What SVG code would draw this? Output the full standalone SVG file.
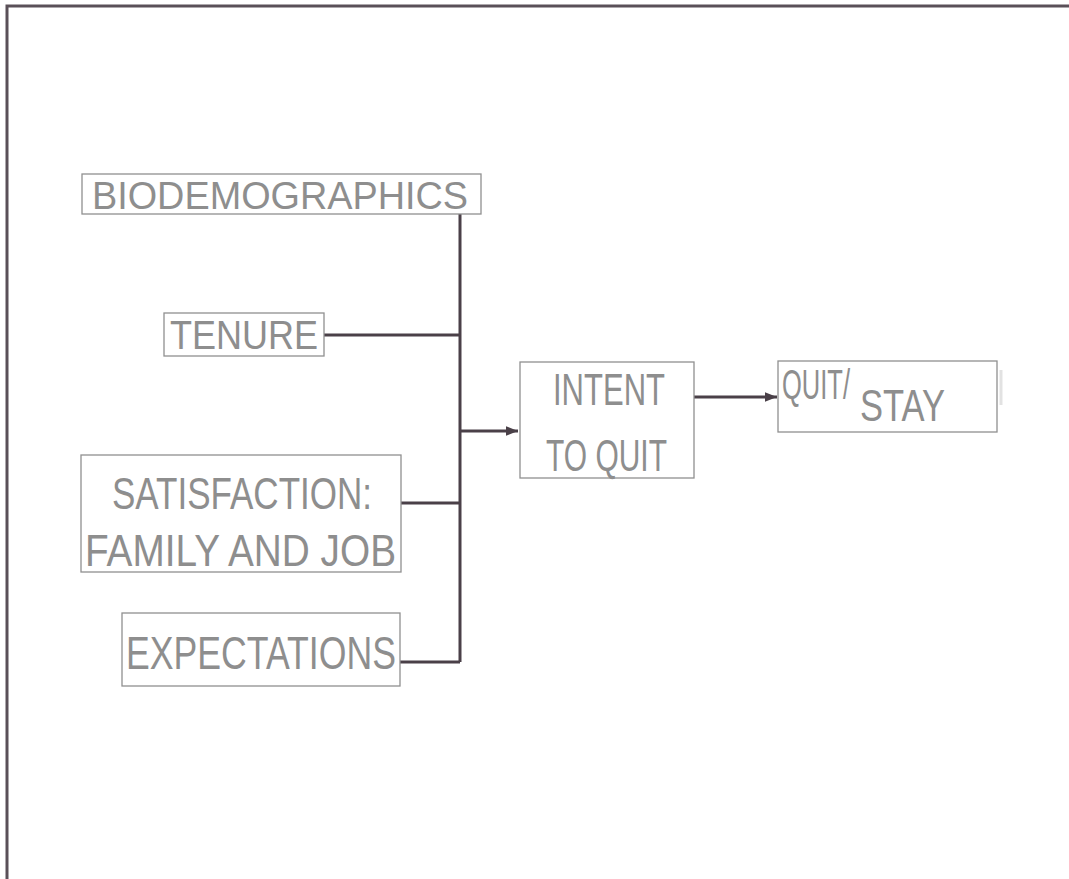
<svg xmlns="http://www.w3.org/2000/svg" width="1069" height="879" viewBox="0 0 1069 879">
<defs>
<marker id="ah" viewBox="0 0 10 10" refX="10" refY="5" markerWidth="4" markerHeight="4" orient="auto" markerUnits="strokeWidth">
<path d="M0,1 L10,5 L0,9 z" fill="#4a4048"/>
</marker>
<style>
.box{fill:#fff;stroke:#909090;stroke-width:1.3}
.t{font-family:"Liberation Sans",Arial,sans-serif;fill:#8e8e8e}
.c{fill:none;stroke:#4a4048;stroke-width:3}
.frame{fill:none;stroke:#5a5058;stroke-width:3}
</style>
</defs>
<rect width="1069" height="879" fill="#fff"/>
<path class="frame" d="M7,879 V6 H1069"/>
<g id="connectors">
<path class="c" d="M460,214 V662"/>
<path class="c" d="M324,335 H460"/>
<path class="c" d="M401,503 H460"/>
<path class="c" d="M400,662 H460"/>
<path class="c" d="M460,431 H518" marker-end="url(#ah)"/>
<path class="c" d="M694,397 H777" marker-end="url(#ah)"/>
</g>
<g id="biodemographics">
<rect class="box" x="82" y="174" width="399" height="40"/>
<text class="t" x="92" y="209" font-size="38" textLength="376" lengthAdjust="spacingAndGlyphs">BIODEMOGRAPHICS</text>
</g>
<g id="tenure">
<rect class="box" x="164" y="313" width="160" height="43"/>
<text class="t" x="170" y="349" font-size="40" textLength="148" lengthAdjust="spacingAndGlyphs">TENURE</text>
</g>
<g id="satisfaction">
<rect class="box" x="81" y="455" width="320" height="117"/>
<text class="t" x="112" y="509" font-size="44" textLength="260" lengthAdjust="spacingAndGlyphs">SATISFACTION:</text>
<text class="t" x="85" y="566" font-size="44" textLength="311" lengthAdjust="spacingAndGlyphs">FAMILY AND JOB</text>
</g>
<g id="expectations">
<rect class="box" x="122" y="613" width="278" height="73"/>
<text class="t" x="126" y="669" font-size="46" textLength="270" lengthAdjust="spacingAndGlyphs">EXPECTATIONS</text>
</g>
<g id="intent">
<rect class="box" x="520" y="362" width="174" height="116"/>
<text class="t" x="553" y="405" font-size="44" textLength="112" lengthAdjust="spacingAndGlyphs">INTENT</text>
<text class="t" x="546" y="471" font-size="44" textLength="121" lengthAdjust="spacingAndGlyphs">TO QUIT</text>
</g>
<g id="quitstay">
<rect class="box" x="778" y="361" width="219" height="71"/>
<text class="t" x="782" y="399" font-size="42" textLength="68" lengthAdjust="spacingAndGlyphs">QUIT/</text>
<text class="t" x="860" y="421" font-size="44" textLength="85" lengthAdjust="spacingAndGlyphs">STAY</text>
<path d="M1001,370 V405" stroke="#e2e2e2" stroke-width="3"/>
</g>
</svg>
